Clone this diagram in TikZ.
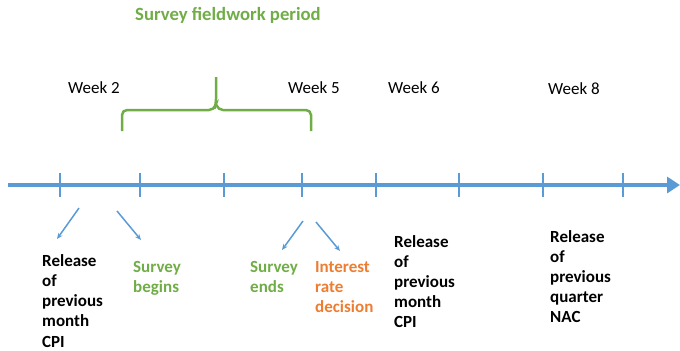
\documentclass[tikz,border=0pt]{standalone}
\usepackage{fontspec}
\setmainfont{Carlito}
\usetikzlibrary{arrows.meta}
\definecolor{tlblue}{HTML}{5B9BD5}
\definecolor{tlgreen}{HTML}{70AD47}
\definecolor{tlorange}{HTML}{ED7D31}
\begin{document}
\begin{tikzpicture}[x=1bp,y=-1bp,
  lbl/.style={anchor=base west,inner sep=0pt,align=left,font=\fontsize{17bp}{20.2bp}\selectfont\bfseries},
  wk/.style={anchor=base west,inner sep=0pt,font=\fontsize{17bp}{20bp}\selectfont},
  tick/.style={draw=tlblue,line width=2bp},
  small/.style={draw=tlblue,line width=1.5bp,-{Stealth[length=6bp,width=5bp]}}]
\useasboundingbox (0,0) rectangle (680,350);
% timeline
\coordinate (tl0) at (8,185);
\coordinate (tl1) at (680,185);
\draw[tlblue,line width=4bp,-{Triangle[length=13bp,width=16bp]}] (tl0) -- (tl1);
\foreach \x in {60,140,224,302,376,459,543,623}{
  \draw[tick] (\x,173) -- (\x,197);
}
% title and brace
\node[anchor=base west,inner sep=0pt,text=tlgreen,font=\fontsize{18.7bp}{22bp}\selectfont\bfseries] (title) at (135,20) {Survey fieldwork period};
\draw[tlgreen,line width=2.5bp,rounded corners=5bp]
  (122,131) -- (122,110) -- (214,110) -- (216,104) -- (216,77);
\draw[tlgreen,line width=2.5bp,rounded corners=5bp]
  (311,131) -- (311,110) -- (218,110) -- (216,104);
% week labels
\node[wk] (w2) at (68,93) {Week 2};
\node[wk] (w5) at (288,93) {Week 5};
\node[wk] (w6) at (388,93) {Week 6};
\node[wk] (w8) at (548,94) {Week 8};
% small arrows
\coordinate (a1s) at (79,208); \coordinate (a1e) at (57,239);
\coordinate (a2s) at (117,211); \coordinate (a2e) at (141,240);
\coordinate (a3s) at (303,221); \coordinate (a3e) at (282,250);
\coordinate (a4s) at (316,222); \coordinate (a4e) at (340,251);
\draw[small] (a1s) -- (a1e);
\draw[small] (a2s) -- (a2e);
\draw[small] (a3s) -- (a3e);
\draw[small] (a4s) -- (a4e);
% bottom labels (anchor at last-line baseline)
\node[lbl,text depth=0pt] (cpi1) at (42,347) {Release\\of\\previous\\month\\CPI};
\node[lbl,text=tlgreen] (sb) at (133,292.2) {Survey\\begins};
\node[lbl,text=tlgreen] (se) at (250,292.2) {Survey\\ends};
\node[lbl,text=tlorange] (ird) at (315,312.4) {Interest\\rate\\decision};
\node[lbl] (cpi2) at (394,327.8) {Release\\of\\previous\\month\\CPI};
\node[lbl] (nac) at (550,322.8) {Release\\of\\previous\\quarter\\NAC};
\end{tikzpicture}
\end{document}
